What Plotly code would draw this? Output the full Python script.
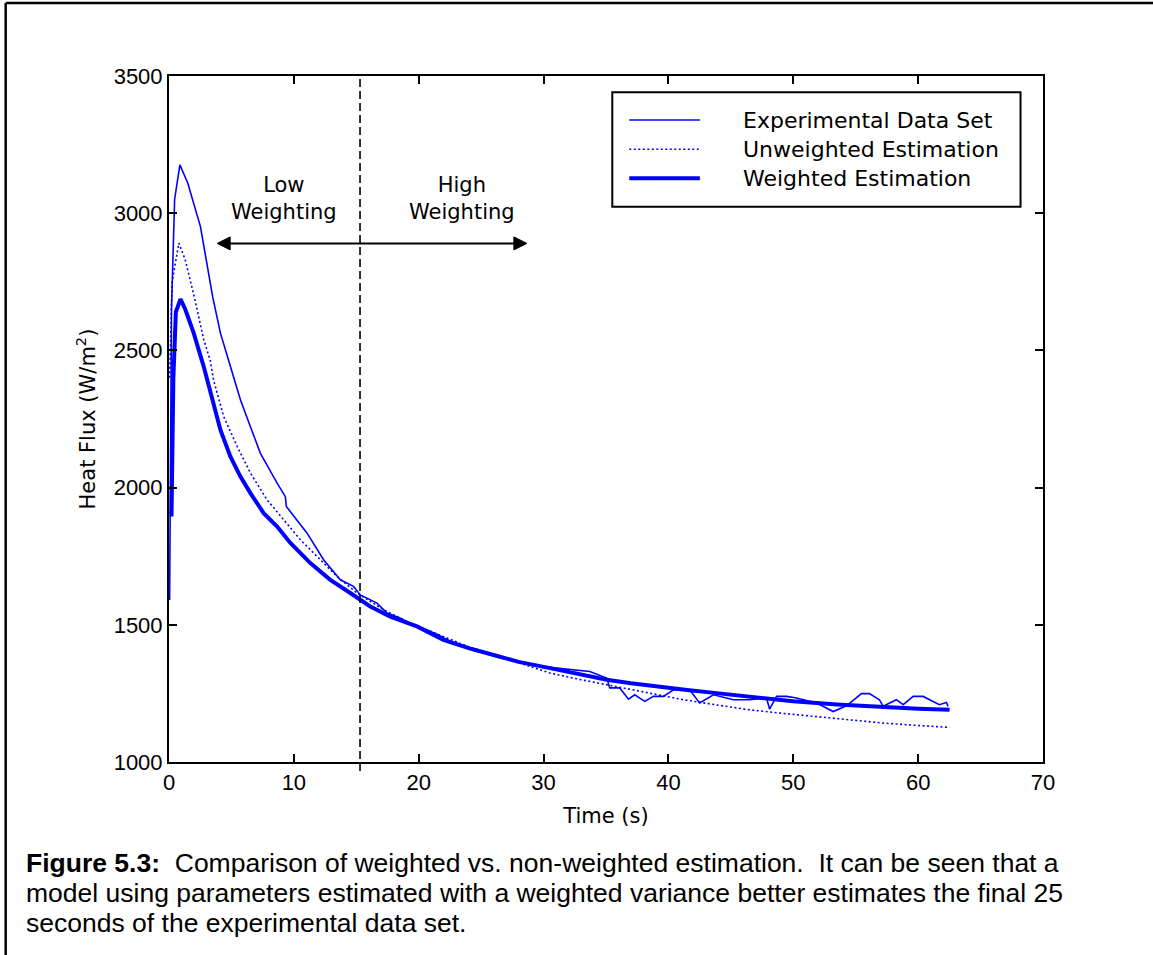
import plotly.graph_objects as go

# ---------------- data ----------------
exp_t = [0.05, 0.2, 0.45, 0.87, 1.5, 2.52, 3.5, 4.12, 4.92, 5.72, 6.52, 7.32, 8.66, 9.32, 9.4,
         10.2, 11.06, 12.38, 13.72, 14.78, 15.32, 16.66, 17.46, 18.5, 19.5, 20.5, 21.5, 22.5,
         23.5, 24.5, 25.5, 26.5, 27.5, 28.5, 29.5, 30.5, 31.5, 32.5, 33.7, 35.06, 35.3, 36.1,
         36.8, 37.3, 38.1, 38.8, 39.6, 40.4, 41.7, 42.5, 43.6, 45.2, 46.5, 47.86, 48.1, 48.66,
         49.46, 50.26, 51.86, 53.2, 54.26, 55.46, 56.1, 56.9, 57.2, 58.26, 58.8, 59.6, 60.4,
         61.7, 62.26, 62.4]
exp_v = [1590, 2650, 3050, 3176, 3110, 2951, 2695, 2563, 2441, 2320, 2222, 2125, 2016, 1967, 1931,
         1885, 1834, 1737, 1664, 1640, 1609, 1579, 1543, 1525, 1500, 1485, 1465, 1440,
         1425, 1405, 1395, 1380, 1370, 1360, 1350, 1345, 1340, 1335, 1330, 1306, 1270, 1270,
         1229, 1245, 1221, 1239, 1239, 1263, 1263, 1215, 1245, 1227, 1227, 1233, 1193, 1239,
         1239, 1233, 1215, 1184, 1205, 1249, 1249, 1227, 1203, 1227, 1209, 1239, 1239,
         1209, 1217, 1203]

unw_t = [0.05, 0.25, 0.79, 1.3, 2.0, 2.78, 3.32, 3.58, 4.38, 5.46, 6.52, 7.86, 9.18, 10.52, 11.86,
         13.46, 15.06, 17.18, 19.32, 21.5, 24.0, 26.5, 28.5, 30.52, 33.0, 35.86, 38.5, 41.18,
         44.0, 46.52, 49.0, 51.86, 54.5, 57.18, 60.0, 62.52]
unw_v = [2400, 2750, 2891, 2830, 2700, 2540, 2460, 2390, 2259, 2150, 2053, 1955, 1883, 1810, 1749,
         1676, 1616, 1555, 1506, 1465, 1420, 1385, 1355, 1324, 1300, 1275, 1250, 1227,
         1207, 1190, 1178, 1166, 1154, 1142, 1133, 1126]

wtd_t = [0.2, 0.35, 0.55, 0.92, 1.3, 1.98, 2.78, 3.45, 4.12, 4.92, 5.72, 6.52, 7.58, 8.66, 9.72,
         11.32, 12.92, 14.52, 16.12, 17.72, 19.86, 21.98, 24.0, 26.0, 28.0, 30.52, 33.0, 35.06,
         37.0, 39.32, 41.5, 43.86, 47.0, 49.98, 53.5, 56.92, 60.0, 62.52]
wtd_v = [1895, 2400, 2640, 2687, 2650, 2563, 2441, 2320, 2210, 2113, 2040, 1980, 1907, 1858, 1798,
         1725, 1664, 1616, 1567, 1530, 1494, 1445, 1415, 1390, 1365, 1342, 1318, 1300,
         1287, 1273, 1262, 1251, 1236, 1221, 1210, 1200, 1194, 1190]

series_names = ["Experimental Data Set", "Unweighted Estimation", "Weighted Estimation"]
x_ticks = [0, 10, 20, 30, 40, 50, 60, 70]
y_ticks = [1000, 1500, 2000, 2500, 3000, 3500]
split_time = 15.3
low_arrow_end = 3.86
high_arrow_end = 28.66
arrow_level = 2890
caption_lines = [
    "<b>Figure 5.3:</b>\u00a0 Comparison of weighted vs. non-weighted estimation.\u00a0 It can be seen that a",
    "model using parameters estimated with a weighted variance better estimates the final 25",
    "seconds of the experimental data set.",
]

# ---------------- layout helpers ----------------
W, H = 1153, 955
L, R, T, B = 168.5, 1043.5, 76, 762
FONT = "Arial, Liberation Sans, Helvetica, sans-serif"
MFONT = "DejaVu Sans, Verdana, sans-serif"
BLUE = "#0000ff"
XS = (R - L) / 70.0          # px per data unit (x)
YS = (B - T) / 2500.0        # px per data unit (y)


def xp(px):
    return (px - L) / (R - L)


def yp(py):
    return (B - py) / (B - T)


fig = go.Figure()
fig.add_trace(go.Scatter(x=exp_t, y=exp_v, mode="lines", name=series_names[0],
                         line=dict(color=BLUE, width=1.6)))
fig.add_trace(go.Scatter(x=unw_t, y=unw_v, mode="lines", name=series_names[1],
                         line=dict(color=BLUE, width=1.6, dash="2px,2.5px")))
fig.add_trace(go.Scatter(x=wtd_t, y=wtd_v, mode="lines", name=series_names[2],
                         line=dict(color=BLUE, width=4)))

shapes = []
annotations = []

# dashed split line
shapes.append(dict(type="line", xref="x", yref="paper", x0=split_time, x1=split_time,
                   y0=yp(771), y1=1, line=dict(color="black", width=1.6, dash="8px,4px")))

# double-headed arrow (shaft + two filled heads)
head_len = 13 / XS
head_half = 6.5 / YS
shapes.append(dict(type="line", xref="x", yref="y", x0=low_arrow_end + head_len * 0.8,
                   x1=high_arrow_end - head_len * 0.8, y0=arrow_level, y1=arrow_level,
                   line=dict(color="black", width=2)))
for tip, sgn in ((low_arrow_end, 1), (high_arrow_end, -1)):
    base = tip + sgn * head_len
    shapes.append(dict(type="path", xref="x", yref="y",
                       path=f"M {tip} {arrow_level} L {base} {arrow_level + head_half} "
                            f"L {base} {arrow_level - head_half} Z",
                       fillcolor="black", line=dict(color="black", width=1)))

annotations.append(dict(x=9.18, y=3052, xref="x", yref="y", text="Low<br>Weighting",
                        showarrow=False, font=dict(family=MFONT, size=21, color="black"),
                        xanchor="center", yanchor="middle"))
annotations.append(dict(x=23.45, y=3052, xref="x", yref="y", text="High<br>Weighting",
                        showarrow=False, font=dict(family=MFONT, size=21, color="black"),
                        xanchor="center", yanchor="middle"))

# manual legend (box, samples, labels)
shapes.append(dict(type="rect", xref="paper", yref="paper", x0=xp(612.3), x1=xp(1021),
                   y0=yp(206.7), y1=yp(92.3), line=dict(color="black", width=2),
                   fillcolor="white", layer="above"))
legend_rows = [120, 149.3, 178.3]
legend_styles = [dict(width=1.6), dict(width=1.6, dash="2px,2.5px"), dict(width=4)]
for name, row, st in zip(series_names, legend_rows, legend_styles):
    shapes.append(dict(type="line", xref="paper", yref="paper", x0=xp(629.3), x1=xp(700),
                       y0=yp(row), y1=yp(row), line=dict(color=BLUE, **st), layer="above"))
    annotations.append(dict(x=xp(741), y=yp(row), xref="paper", yref="paper", text=name,
                            showarrow=False, xanchor="left", yanchor="middle",
                            font=dict(family=MFONT, size=22, color="black")))

# outer figure frame (top and left edges visible)
shapes.append(dict(type="line", xref="paper", yref="paper", x0=xp(5), x1=xp(1170),
                   y0=yp(3), y1=yp(3), line=dict(color="black", width=2.5)))
shapes.append(dict(type="line", xref="paper", yref="paper", x0=xp(5), x1=xp(5),
                   y0=yp(3), y1=yp(980), line=dict(color="black", width=2.5)))

# caption
for line, mid in zip(caption_lines, [863, 893, 923]):
    annotations.append(dict(x=xp(23), y=yp(mid), xref="paper", yref="paper", text=line,
                            showarrow=False, xanchor="left", yanchor="middle",
                            font=dict(family=FONT, size=26.5, color="black")))

axis_common = dict(showgrid=False, zeroline=False, showline=True, linecolor="black",
                   linewidth=2, mirror="ticks", ticks="inside", ticklen=8, tickwidth=1.6,
                   tickcolor="black", tickfont=dict(family=FONT, size=22, color="black"))

fig.update_layout(
    width=W, height=H,
    margin=dict(l=L, r=W - R, t=T, b=H - B, autoexpand=False),
    paper_bgcolor="white", plot_bgcolor="white",
    showlegend=False,
    shapes=shapes, annotations=annotations,
    xaxis=dict(range=[0, 70], tickvals=x_ticks, ticktext=[str(v) for v in x_ticks],
               title=dict(text="Time (s)", font=dict(family=MFONT, size=21, color="black"),
                          standoff=14),
               automargin=False, **axis_common),
    yaxis=dict(range=[1000, 3500], tickvals=y_ticks, ticktext=[str(v) for v in y_ticks],
               title=dict(text="Heat Flux (W/m<sup>2</sup>)",
                          font=dict(family=MFONT, size=21, color="black"), standoff=12),
               automargin=False, **axis_common),
)

fig.write_html("out.html")
